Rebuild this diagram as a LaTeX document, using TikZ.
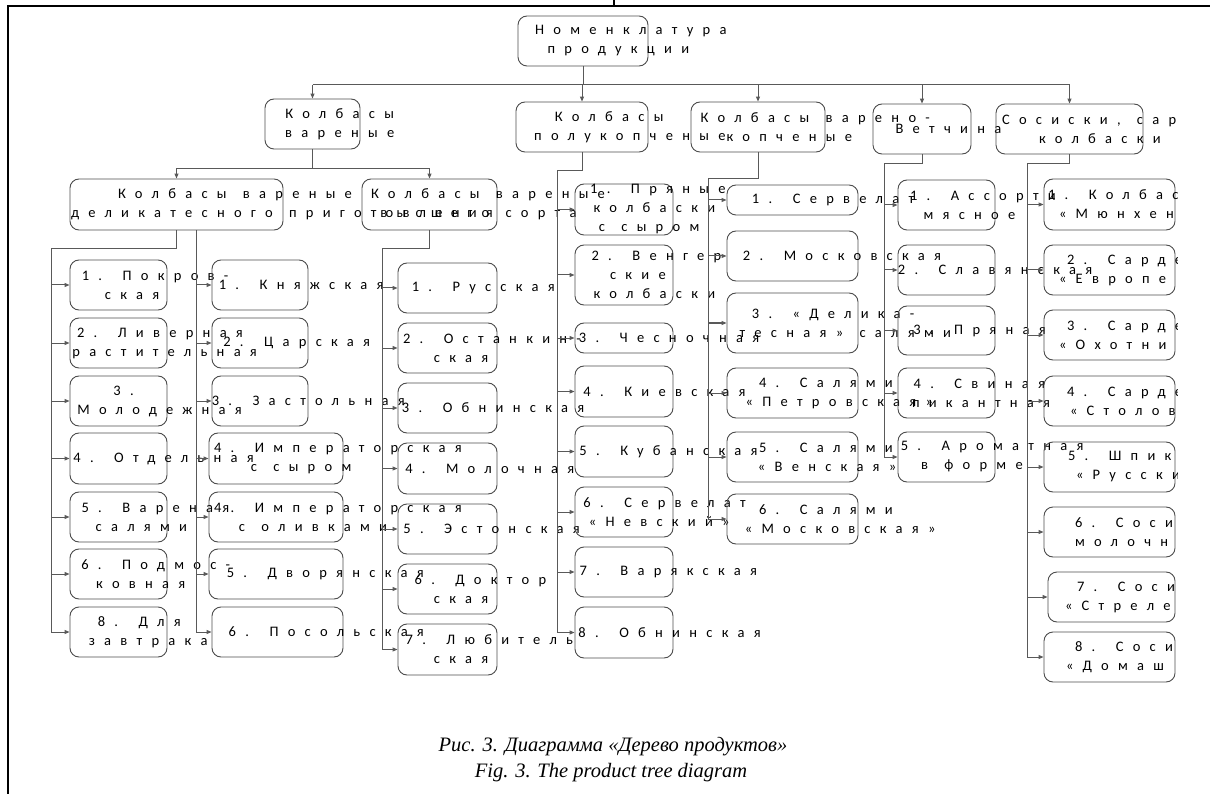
\documentclass[tikz,border=0pt]{standalone}
\usepackage{fontspec}
\setmainfont{Liberation Serif}
\newfontfamily\boxfont[LetterSpace=64, WordSpace=1.3]{Carlito}
\usetikzlibrary{arrows.meta}

% a line that runs out of its box to the right
\newcommand{\tline}[1]{\makebox[0pt]{\makebox[0.5\width][l]{#1}}}
% a line that starts at a given shift from the box centre
\newcommand{\sline}[2]{\makebox[0pt][l]{\hspace*{#1}#2}}

\begin{document}
\begin{tikzpicture}[
    x=1pt, y=-1pt,
    box/.style={draw=black!70, line width=0.9pt, rounded corners=9pt, align=center, inner sep=0pt,
        font={\boxfont\fontsize{14.5}{19}\selectfont}, text=black},
    conn/.style={draw=black!65, line width=1pt},
    arr/.style={conn, -{Triangle[length=5pt, width=4pt]}}
]
\useasboundingbox (0,0) rectangle (1210,794);

\begin{scope}
\clip (0,0) rectangle (1177,794);

% level 1
\node[box, minimum width=130, minimum height=50] (root) at (583,41) {\tline{Номенклатура}\\\tline{продукции}};
\node[box, minimum width=95, minimum height=50] (kv) at (312.5,124) {\tline{Колбасы}\\\tline{вареные}};
\node[box, minimum width=132, minimum height=50] (pk) at (582,127) {\tline{Колбасы}\\\tline{полукопченые}};
\node[box, minimum width=134, minimum height=50] (vk) at (758,127) {\tline{Колбасы варено-}\\\tline{копченые}};
\node[box, minimum width=98, minimum height=50] (vet) at (922,129) {\tline{Ветчина}};
\node[box, minimum width=147, minimum height=50] (sos) at (1069.5,129) {\sline{-67.5pt}{Сосиски, сар}\\\tline{колбаски}};

% level 2
\node[box, minimum width=213, minimum height=51] (kvd) at (176.5,204.5) {\tline{Колбасы вареные}\\\tline{деликатесного приготовления}};
\node[box, minimum width=135, minimum height=51] (kvs) at (429.5,204.5) {\tline{Колбасы вареные}\\\tline{высшего сорта}};

% list d
\node[box, minimum width=97, minimum height=50] (d1) at (118.5,285) {\tline{1. Покров-}\\\tline{ская}};
\node[box, minimum width=97, minimum height=50] (d2) at (118.5,343) {\tline{2. Ливерная}\\\tline{растительная}};
\node[box, minimum width=97, minimum height=50] (d3) at (118.5,401) {\tline{3.}\\\tline{Молодежная}};
\node[box, minimum width=97, minimum height=51] (d4) at (118.5,458.5) {\tline{4. Отдельная}};
\node[box, minimum width=97, minimum height=50] (d5) at (118.5,517) {\tline{5. Вареная}\\\tline{салями}};
\node[box, minimum width=97, minimum height=50] (d6) at (118.5,574) {\tline{6. Подмос-}\\\tline{ковная}};
\node[box, minimum width=97, minimum height=50] (d7) at (118.5,632) {\tline{8. Для}\\\tline{завтрака}};

% list e
\node[box, minimum width=96, minimum height=50] (e1) at (260,285) {\tline{1. Княжская}};
\node[box, minimum width=96, minimum height=50] (e2) at (260,343) {\tline{2. Царская}};
\node[box, minimum width=96, minimum height=50] (e3) at (260,401) {\tline{3. Застольная}};
\node[box, minimum width=134, minimum height=51] (e4) at (276,458.5) {\tline{4. Императорская}\\\tline{с сыром}};
\node[box, minimum width=134, minimum height=50] (e5) at (276,517) {\tline{4. Императорская}\\\tline{с оливками}};
\node[box, minimum width=134, minimum height=50] (e6) at (276,574) {\tline{5. Дворянская}};
\node[box, minimum width=131, minimum height=50] (e7) at (277.5,632) {\tline{6. Посольская}};

% list f
\node[box, minimum width=99, minimum height=50] (f1) at (447.5,288) {\tline{1. Русская}};
\node[box, minimum width=99, minimum height=50] (f2) at (447.5,348) {\tline{2. Останкин-}\\\tline{ская}};
\node[box, minimum width=99, minimum height=50] (f3) at (447.5,408) {\tline{3. Обнинская}};
\node[box, minimum width=99, minimum height=51] (f4) at (447.5,468.5) {\tline{4. Молочная}};
\node[box, minimum width=99, minimum height=50] (f5) at (447.5,529) {\tline{5. Эстонская}};
\node[box, minimum width=99, minimum height=50] (f6) at (447.5,589) {\tline{6. Доктор}\\\tline{ская}};
\node[box, minimum width=99, minimum height=51] (f7) at (447.5,649.5) {\tline{7. Любитель}\\\tline{ская}};

% list g
\node[box, minimum width=98, minimum height=51] (g1) at (624,209.5) {\tline{1. Пряные}\\\tline{колбаски}\\\tline{с сыром}};
\node[box, minimum width=98, minimum height=60] (g2) at (624,275) {\tline{2. Венгер}\\\tline{ские}\\\tline{колбаски}};
\node[box, minimum width=98, minimum height=30] (g3) at (624,338) {\tline{3. Чесночная}};
\node[box, minimum width=98, minimum height=51] (g4) at (624,391.5) {\tline{4. Киевская}};
\node[box, minimum width=98, minimum height=51] (g5) at (624,451.5) {\tline{5. Кубанская}};
\node[box, minimum width=98, minimum height=50] (g6) at (624,512) {\tline{6. Сервелат}\\\tline{«Невский»}};
\node[box, minimum width=98, minimum height=50] (g7) at (624,572) {\tline{7. Варякская}};
\node[box, minimum width=98, minimum height=51] (g8) at (624,632.5) {\tline{8. Обнинская}};

% list h
\node[box, minimum width=131, minimum height=30] (h1) at (792.5,200) {\tline{1. Сервелат}};
\node[box, minimum width=131, minimum height=50] (h2) at (792.5,256) {\tline{2. Московская}};
\node[box, minimum width=131, minimum height=60] (h3) at (792.5,323) {\tline{3. «Делика-}\\\tline{тесная» салями}};
\node[box, minimum width=131, minimum height=50] (h4) at (792.5,393) {\tline{4. Салями}\\\tline{«Петровская»}};
\node[box, minimum width=131, minimum height=50] (h5) at (792.5,457) {\tline{5. Салями}\\\tline{«Венская»}};
\node[box, minimum width=131, minimum height=50] (h6) at (792.5,519) {\tline{6. Салями}\\\tline{«Московская»}};

% list k
\node[box, minimum width=97, minimum height=50] (k1) at (946.5,205) {\tline{1. Ассорти}\\\tline{мясное}};
\node[box, minimum width=97, minimum height=50] (k2) at (946.5,270) {\tline{2. Славянская}};
\node[box, minimum width=97, minimum height=49] (k3) at (946.5,330.5) {\tline{3. Пряная}};
\node[box, minimum width=97, minimum height=50] (k4) at (946.5,393) {\tline{4. Свиная}\\\tline{пикантная}};
\node[box, minimum width=97, minimum height=50] (k5) at (946.5,457) {\tline{5. Ароматная}\\\tline{в форме}};

% list m, cut by the right edge
\node[box, minimum width=131, minimum height=51] (m1) at (1109.5,204.5) {\sline{-61.5pt}{1. Колбас}\\\sline{-50.5pt}{«Мюнхен}};
\node[box, minimum width=131, minimum height=50] (m2) at (1109.5,270) {\sline{-42.5pt}{2. Сарде}\\\sline{-50.5pt}{«Европе}};
\node[box, minimum width=131, minimum height=50] (m3) at (1109.5,335) {\sline{-42.5pt}{3. Сарде}\\\sline{-50.5pt}{«Охотни}};
\node[box, minimum width=131, minimum height=50] (m4) at (1109.5,401) {\sline{-42.5pt}{4. Сарде}\\\sline{-39.5pt}{«Столов}};
\node[box, minimum width=131, minimum height=50] (m5) at (1109.5,467) {\sline{-41.5pt}{5. Шпик}\\\sline{-33.5pt}{«Русски}};
\node[box, minimum width=131, minimum height=50] (m6) at (1109.5,532) {\sline{-34.5pt}{6. Соси}\\\sline{-34.5pt}{молочн}};
\node[box, minimum width=127, minimum height=50] (m7) at (1111.5,597) {\sline{-34.5pt}{7. Соси}\\\sline{-46.5pt}{«Стреле}};
\node[box, minimum width=131, minimum height=50] (m8) at (1109.5,657) {\sline{-34.5pt}{8. Соси}\\\sline{-43.5pt}{«Домаш}};

% connectors
\coordinate (bus) at (0,85);
\coordinate (t1) at (51,0);
\coordinate (t2) at (196,0);
\coordinate (t3) at (382,0);
\coordinate (t4) at (557,0);
\coordinate (t5) at (708,0);
\coordinate (t6) at (884,0);
\coordinate (t7) at (1027,0);

\draw[conn] (root.south) -- (root.south |- bus);
\draw[conn] (kv.north |- bus) -- (sos.north |- bus);
\foreach \n in {kv,pk,vk,vet,sos} \draw[arr] (\n.north |- bus) -- (\n.north);

\draw[arr] (kv.south) -- ++(0,19) -| (kvd.north);
\draw[arr] (kv.south) -- ++(0,19) -| (kvs.north);

\draw[conn] (kvd.south) -- ++(0,18) -| (t1 |- d7.west);
\draw[conn] (kvd.south -| t2) -- (t2 |- e7.west);
\draw[conn] (kvs.south) -- ++(0,18) -| (t3 |- f7.west);
\draw[conn] (pk.south) -- ++(0,18) -| (t4 |- g8.west);
\draw[conn] (vk.south) -- ++(0,26) -| (t5 |- h6.west);
\draw[conn] (vet.south) -- ++(0,9) -| (t6 |- k5.west);
\draw[conn] (sos.south) -- ++(0,9) -| (t7 |- m8.west);

\foreach \lst/\trk/\cnt in {d/t1/7, e/t2/7, f/t3/7, g/t4/8, h/t5/6, k/t6/5, m/t7/8}
    \foreach \i in {1,...,\cnt} \draw[arr] (\trk |- \lst\i.west) -- (\lst\i.west);
\end{scope}

% frame
\draw[line width=2pt] (8,794) -- (8,6) -- (1210,6);
\draw[line width=2pt] (614,0) -- (614,6);

% caption
\node[font=\itshape\fontsize{20.5}{24}\selectfont] (cap1) at (613,747) {Рис. 3. Диаграмма «Дерево продуктов»};
\node[font=\itshape\fontsize{20.5}{24}\selectfont] (cap2) at (611,773) {Fig. 3. The product tree diagram};
\end{tikzpicture}
\end{document}
